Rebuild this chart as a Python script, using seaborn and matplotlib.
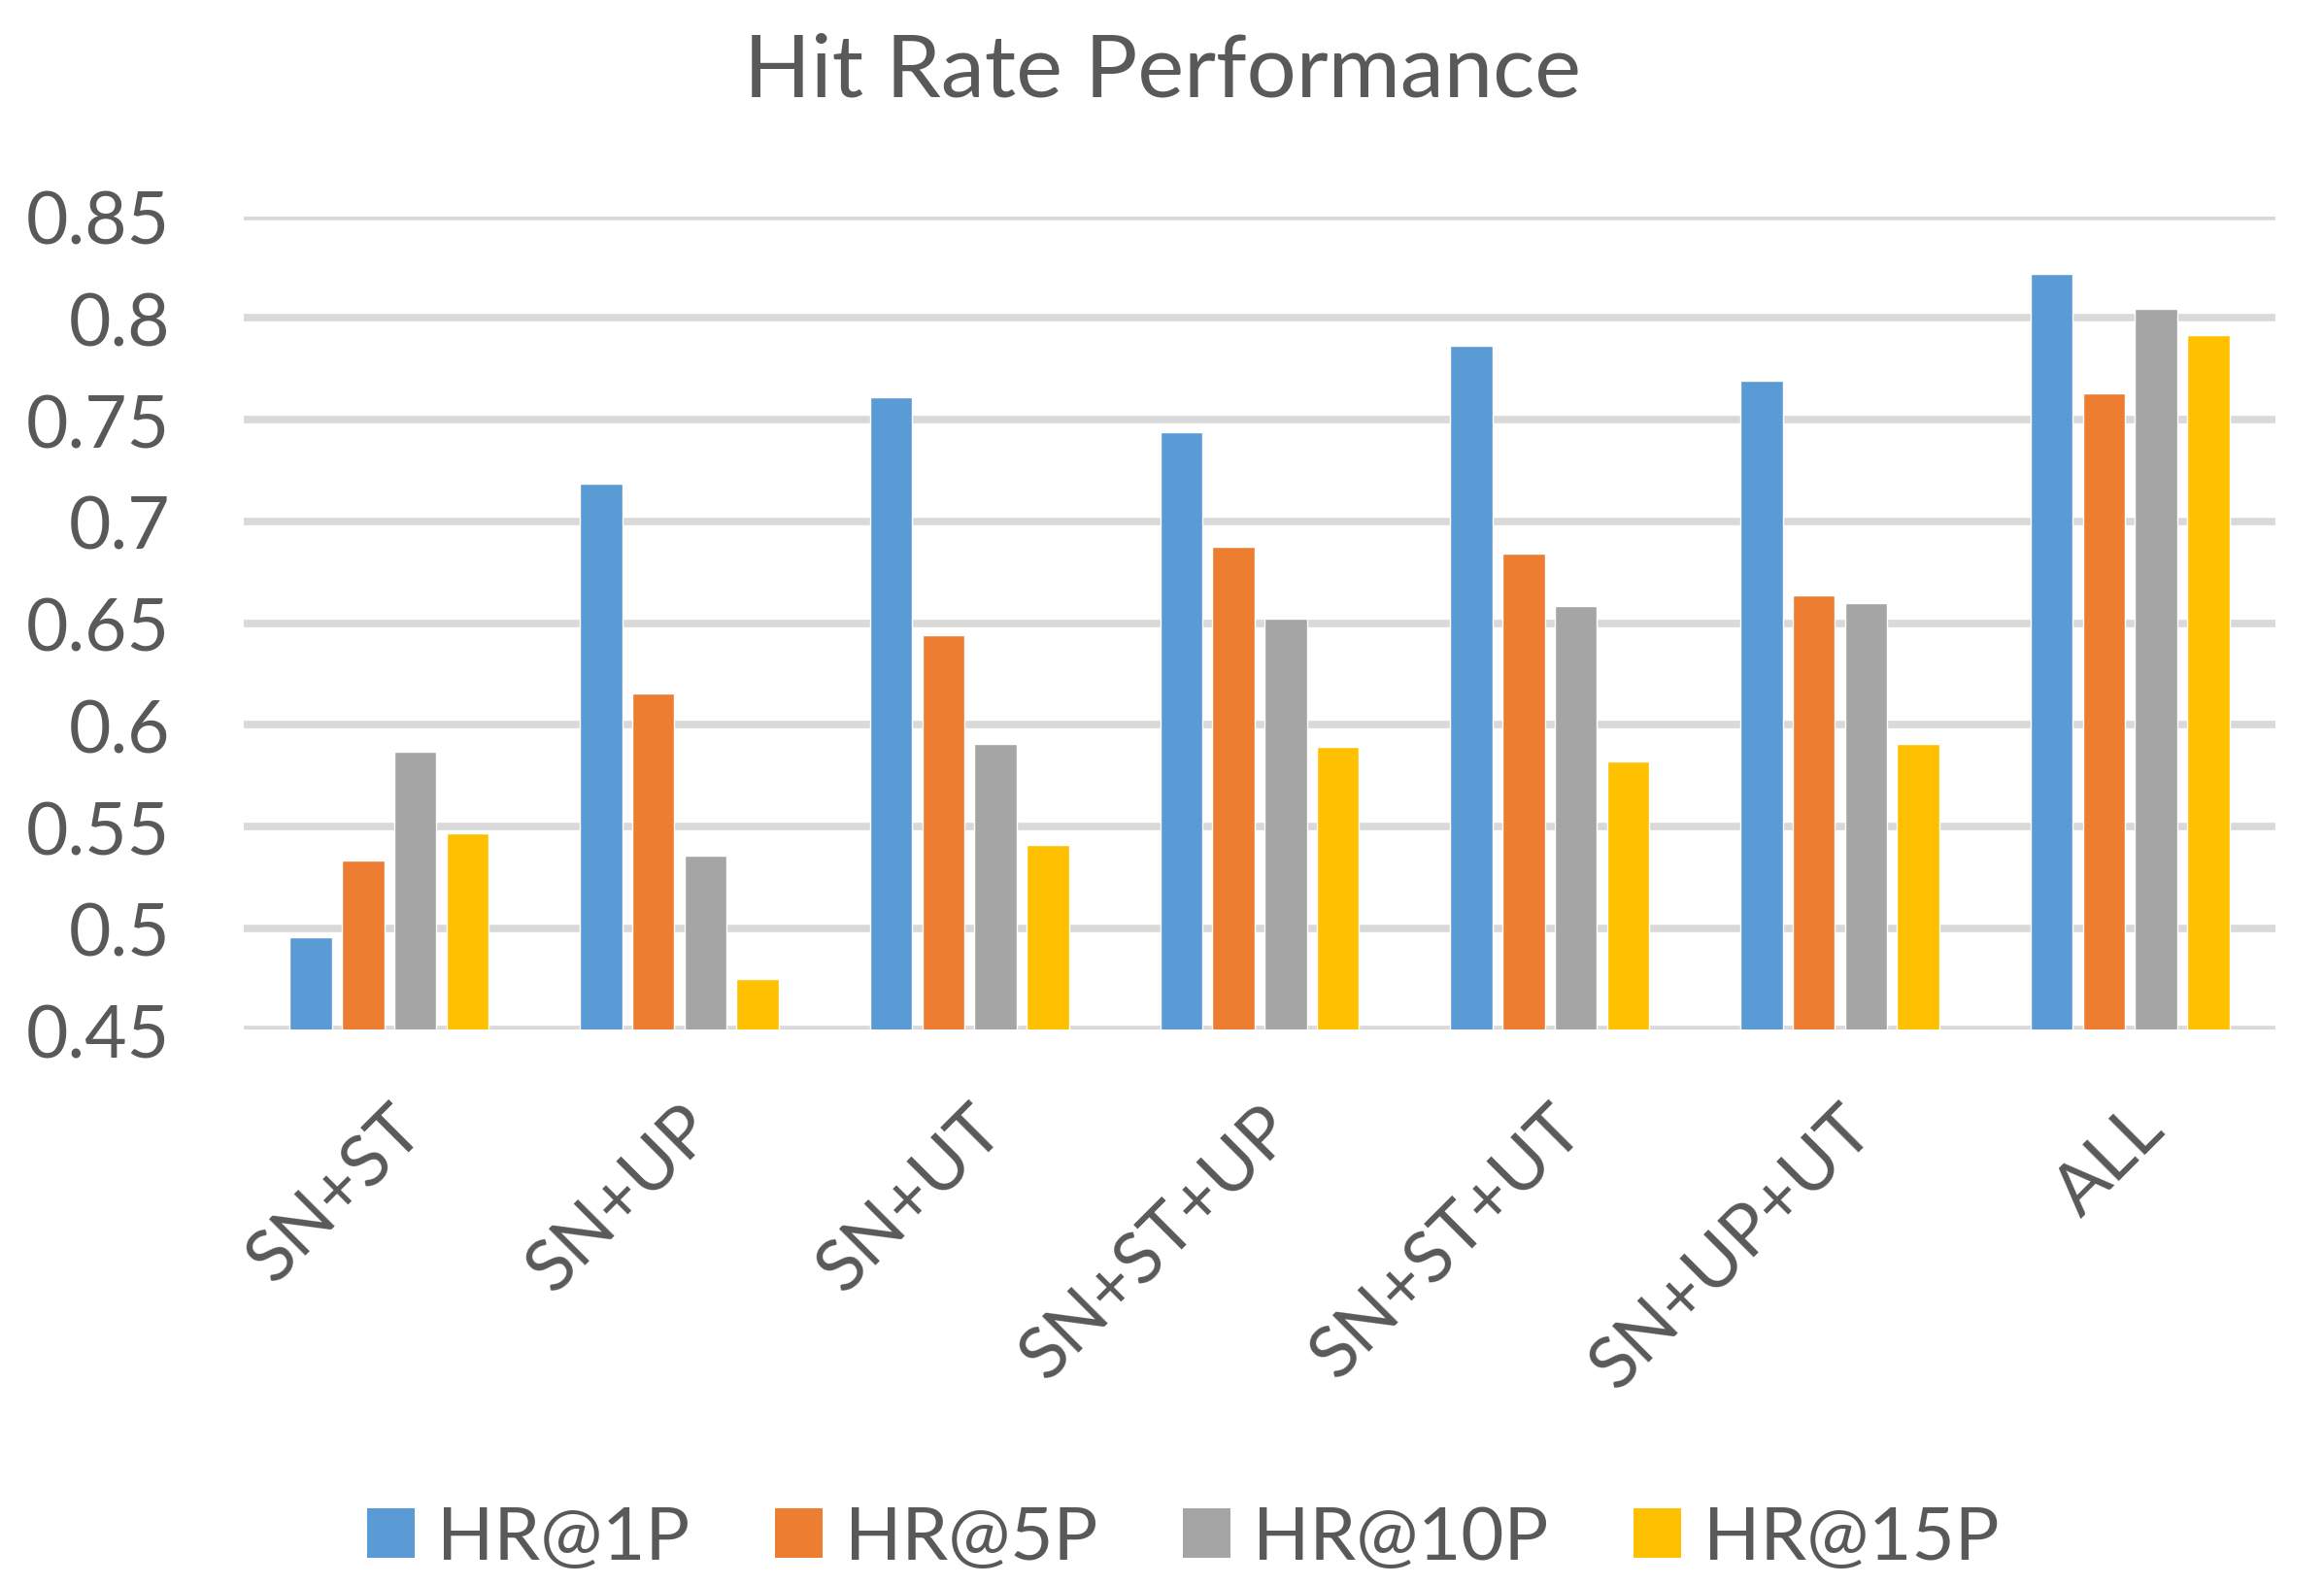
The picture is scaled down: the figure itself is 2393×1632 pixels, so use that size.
import pandas as pd
import seaborn as sns
import matplotlib.pyplot as plt
from matplotlib.ticker import FuncFormatter
from matplotlib.patches import Patch

categories = ['SN+ST', 'SN+UP', 'SN+UT', 'SN+ST+UP', 'SN+ST+UT', 'SN+UP+UT', 'ALL']
series = ['HR@1P', 'HR@5P', 'HR@10P', 'HR@15P']
hr1 = [0.4955, 0.7186, 0.7610, 0.7440, 0.7865, 0.7694, 0.8216]
hr5 = [0.5333, 0.6155, 0.6443, 0.6874, 0.6840, 0.6635, 0.7632]
hr10 = [0.5870, 0.5356, 0.5904, 0.6524, 0.6584, 0.6600, 0.8047]
hr15 = [0.5468, 0.4749, 0.5411, 0.5893, 0.5820, 0.5904, 0.7917]
colors = ['#5B9BD5', '#ED7D31', '#A5A5A5', '#FFC000']
text_color = '#595959'

rows = []
for name, vals in zip(series, [hr1, hr5, hr10, hr15]):
    for cat, v in zip(categories, vals):
        rows.append({'combo': cat, 'metric': name, 'hr': v})
df = pd.DataFrame(rows)

sns.set_theme(style='white')
plt.rcParams['font.family'] = ['Lato', 'DejaVu Sans']

fig = plt.figure(figsize=(23.93, 16.33), dpi=100)
ax = fig.add_axes([0.105, 0.350, 0.874, 0.513])

sns.barplot(data=df, x='combo', y='hr', hue='metric', hue_order=series,
            order=categories, palette=colors, width=0.72, gap=0.19,
            saturation=1, ax=ax, legend=False, zorder=3)

ax.set_ylim(0.45, 0.85)
ax.set_yticks([0.45, 0.5, 0.55, 0.6, 0.65, 0.7, 0.75, 0.8, 0.85])
ax.yaxis.set_major_formatter(FuncFormatter(lambda v, p: f'{v:g}'))
ax.grid(axis='y', color='#D9D9D9', linewidth=5.5, zorder=0)
ax.set_axisbelow(True)
for s in ax.spines.values():
    s.set_visible(False)
ax.set_xlabel('')
ax.set_ylabel('')
ax.tick_params(axis='y', length=0, pad=55, labelsize=54, labelcolor=text_color)
ax.tick_params(axis='x', length=0, pad=48, labelsize=53, labelcolor=text_color)
for lbl in ax.get_xticklabels():
    lbl.set_rotation(45)
    lbl.set_ha('right')
    lbl.set_rotation_mode('anchor')

fig.text(0.5, 1 - 75 / 1633, 'Hit Rate Performance', ha='center', va='center',
         fontsize=65, color=text_color)

handles = [Patch(facecolor=c, edgecolor='none', label=s) for c, s in zip(colors, series)]
fig.legend(handles=handles, loc='center', bbox_to_anchor=(0.509, 1 - 1585 / 1633),
           ncol=4, frameon=False, fontsize=55, handlelength=0.64, handleheight=0.64,
           handletextpad=0.3, columnspacing=1.15, labelcolor=text_color)

fig.savefig('out.png', dpi=100, facecolor='white')
